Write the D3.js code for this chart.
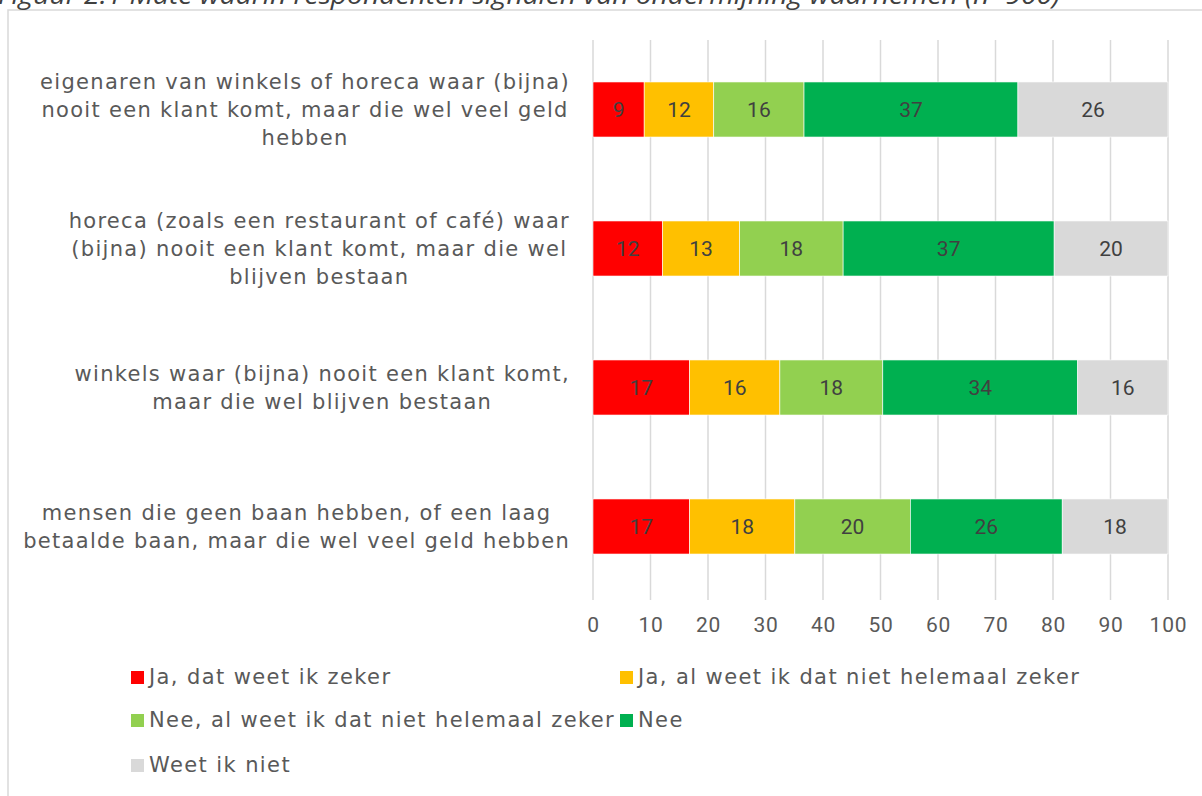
<!DOCTYPE html>
<html>
<head>
<meta charset="utf-8">
<script src="https://cdn.jsdelivr.net/npm/d3@7"></script>
<style>
  body { margin: 0; background: #fff; }
  svg { display: block; }
</style>
</head>
<body>
<div id="chart"></div>
<script>
//////////// DATA ////////////

// categories, top to bottom (line breaks as in the figure)
var categories = [
  "eigenaren van winkels of horeca waar (bijna)\nnooit een klant komt, maar die wel veel geld\nhebben",
  "horeca (zoals een restaurant of café) waar\n(bijna) nooit een klant komt, maar die wel\nblijven bestaan",
  "winkels waar (bijna) nooit een klant komt,\nmaar die wel blijven bestaan",
  "mensen die geen baan hebben, of een laag\nbetaalde baan, maar die wel veel geld hebben"
];

var seriesNames = [
  "Ja, dat weet ik zeker",
  "Ja, al weet ik dat niet helemaal zeker",
  "Nee, al weet ik dat niet helemaal zeker",
  "Nee",
  "Weet ik niet"
];

// percentages per series, in category order
var jaZeker      = [8.9, 12.1, 16.8, 16.8];
var jaNietZeker  = [12.1, 13.4, 15.7, 18.3];
var neeNietZeker = [15.7, 18.0, 17.9, 20.1];
var nee          = [37.2, 36.7, 33.9, 26.4];
var weetNiet     = [26.1, 19.8, 15.7, 18.4];

var seriesValues = [jaZeker, jaNietZeker, neeNietZeker, nee, weetNiet];
var seriesColors = ["#ff0000", "#ffc000", "#92d050", "#00b050", "#d9d9d9"];

var xTicks = [0, 10, 20, 30, 40, 50, 60, 70, 80, 90, 100];

var title = "Figuur 2.1 Mate waarin respondenten signalen van ondermijning waarnemen (n=900)";

//////////// CONFIG ////////////

var width = 1202, height = 796;
var margin = { left: 593, right: 34, top: 40, bottom: 200 };
var labelFont = "\"DejaVu Sans\", sans-serif";
var numFont = "Roboto, sans-serif";

var svg = d3.select("#chart").append("svg")
    .attr("width", width)
    .attr("height", height)
    .attr("font-family", "\"Open Sans\", sans-serif");

// chart frame
svg.append("rect")
    .attr("x", 8).attr("y", 10)
    .attr("width", 1200).attr("height", 800)
    .attr("fill", "none")
    .attr("stroke", "#d9d9d9")
    .attr("stroke-width", 1.5);

// cut-off title above the frame
svg.append("text")
    .attr("x", -2).attr("y", 4)
    .attr("font-style", "italic")
    .attr("font-size", 25)
    .attr("fill", "#404040")
    .attr("textLength", 1062)
    .attr("lengthAdjust", "spacingAndGlyphs")
    .text(title);

var x = d3.scaleLinear()
    .domain([0, 100])
    .range([margin.left, width - margin.right]);

var y = d3.scaleBand()
    .domain(d3.range(categories.length))
    .range([margin.top, margin.top + 556])
    .paddingInner(0.604)
    .paddingOuter(0.302);

// stack the series
var table = categories.map(function(c, i) {
  var row = { i: i };
  seriesValues.forEach(function(s, k) { row["s" + k] = s[i]; });
  return row;
});
var stack = d3.stack().keys(seriesValues.map(function(s, k) { return "s" + k; }));
var stacked = stack(table);

//////////// GRID + AXIS ////////////

svg.append("g")
    .selectAll("line")
    .data(xTicks)
    .enter().append("line")
      .attr("x1", function(d) { return x(d); })
      .attr("x2", function(d) { return x(d); })
      .attr("y1", margin.top)
      .attr("y2", margin.top + 560)
      .attr("stroke", "#d9d9d9")
      .attr("stroke-width", 1.5);

var xAxis = svg.append("g")
    .attr("transform", "translate(0," + (margin.top + 560) + ")")
    .call(d3.axisBottom(x).tickValues(xTicks).tickSize(0).tickPadding(17));
xAxis.select(".domain").remove();
xAxis.attr("font-family", numFont).attr("font-size", 21);
xAxis.selectAll("text")
    .attr("fill", "#595959")
    .attr("letter-spacing", 0.8);

//////////// BARS ////////////

var layer = svg.append("g")
    .selectAll("g")
    .data(stacked)
    .enter().append("g")
      .attr("fill", function(d, k) { return seriesColors[k]; });

layer.selectAll("rect")
    .data(function(d) { return d; })
    .enter().append("rect")
      .attr("x", function(d) { return x(d[0]); })
      .attr("width", function(d) { return x(d[1]) - x(d[0]); })
      .attr("y", function(d) { return y(d.data.i); })
      .attr("height", y.bandwidth())
      .attr("stroke", "#fff")
      .attr("stroke-width", 0.6);

layer.selectAll("text")
    .data(function(d) { return d; })
    .enter().append("text")
      .attr("x", function(d) { return (x(d[0]) + x(d[1])) / 2; })
      .attr("y", function(d) { return y(d.data.i) + y.bandwidth() / 2; })
      .attr("dy", "0.35em")
      .attr("text-anchor", "middle")
      .attr("font-family", numFont)
      .attr("font-size", 21)
      .attr("fill", "#404040")
      .text(function(d) { return d3.format(".0f")(d[1] - d[0]); });

//////////// CATEGORY LABELS ////////////

var lineH = 28;
var labelRight = 570;
categories.forEach(function(c, i) {
  var lines = c.split("\n");
  var g = svg.append("g");
  var cy = y(i) + y.bandwidth() / 2;
  var texts = g.selectAll("text")
      .data(lines)
      .enter().append("text")
        .attr("y", function(d, j) { return cy + (j - (lines.length - 1) / 2) * lineH; })
        .attr("dy", "0.35em")
        .attr("text-anchor", "middle")
        .attr("font-family", labelFont)
        .attr("font-size", 21)
        .attr("letter-spacing", 1.3)
        .attr("fill", "#595959")
        .text(function(d) { return d; });
  var maxW = d3.max(texts.nodes(), function(n) { return n.getComputedTextLength(); });
  texts.attr("x", labelRight - maxW / 2);
});

//////////// LEGEND ////////////

var legendRows = [[0, 1], [2, 3], [4]];
var legendY = [677, 720, 765];
legendRows.forEach(function(row, r) {
  var cx = 131;
  row.forEach(function(k, j) {
    if (j == 1) cx = Math.max(cx - 4, 620);
    var item = svg.append("g").attr("transform", "translate(" + cx + "," + legendY[r] + ")");
    item.append("rect")
        .attr("x", 0).attr("y", -6)
        .attr("width", 13).attr("height", 13)
        .attr("fill", seriesColors[k]);
    var t = item.append("text")
        .attr("x", 18)
        .attr("dy", "0.35em")
        .attr("font-family", labelFont)
        .attr("font-size", 21)
        .attr("letter-spacing", 1.4)
        .attr("fill", "#595959")
        .text(seriesNames[k]);
    cx += 18 + t.node().getComputedTextLength() + 4;
  });
});
</script>
</body>
</html>
